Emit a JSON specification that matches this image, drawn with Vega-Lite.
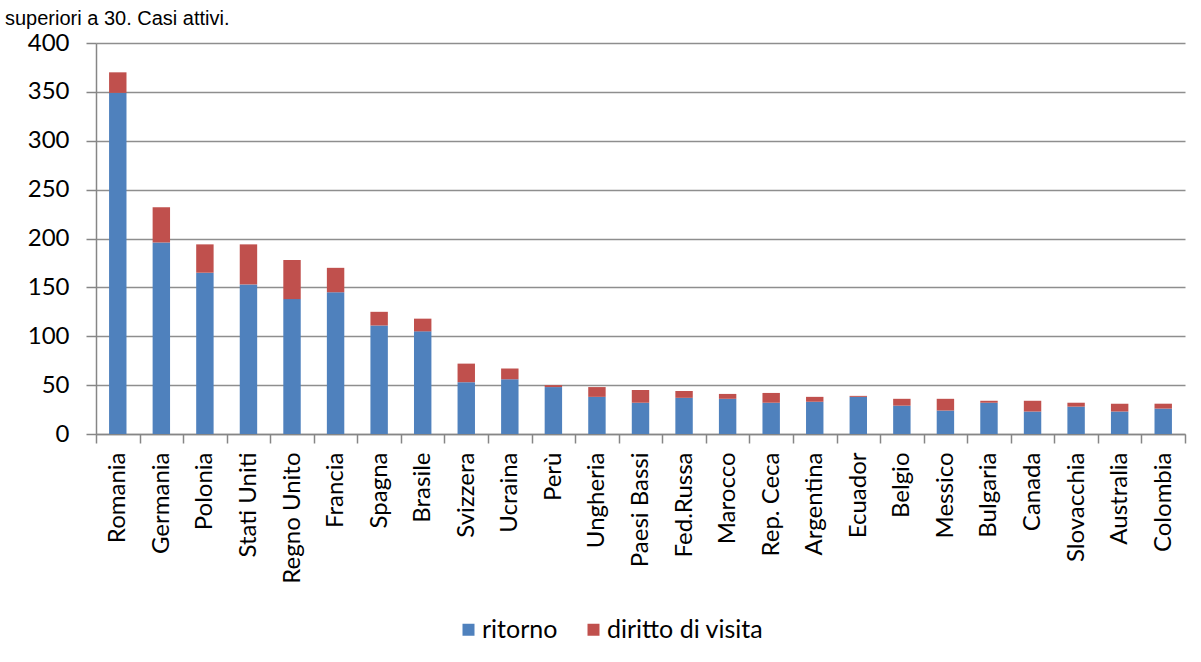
{
  "$schema": "https://vega.github.io/schema/vega-lite/v6.json",
  "width": 1089,
  "height": 391,
  "autosize": {"type": "none"},
  "padding": {"left": 96, "top": 43, "right": 16, "bottom": 228},
  "background": "white",
  "title": {"text": "superiori a 30. Casi attivi.", "anchor": "start", "frame": "group", "dx": -91, "offset": -14, "baseline": "alphabetic", "font": "Liberation Sans", "fontSize": 20, "fontWeight": "normal", "color": "black"},
  "data": {"values": [
    {"paese": "Romania", "ritorno": 349, "diritto di visita": 21},
    {"paese": "Germania", "ritorno": 196, "diritto di visita": 36},
    {"paese": "Polonia", "ritorno": 165, "diritto di visita": 29},
    {"paese": "Stati Uniti", "ritorno": 153, "diritto di visita": 41},
    {"paese": "Regno Unito", "ritorno": 138, "diritto di visita": 40},
    {"paese": "Francia", "ritorno": 145, "diritto di visita": 25},
    {"paese": "Spagna", "ritorno": 111, "diritto di visita": 14},
    {"paese": "Brasile", "ritorno": 105, "diritto di visita": 13},
    {"paese": "Svizzera", "ritorno": 53, "diritto di visita": 19},
    {"paese": "Ucraina", "ritorno": 56, "diritto di visita": 11},
    {"paese": "Perù", "ritorno": 48, "diritto di visita": 2},
    {"paese": "Ungheria", "ritorno": 38, "diritto di visita": 10},
    {"paese": "Paesi Bassi", "ritorno": 32, "diritto di visita": 13},
    {"paese": "Fed.Russa", "ritorno": 37, "diritto di visita": 7},
    {"paese": "Marocco", "ritorno": 36, "diritto di visita": 5},
    {"paese": "Rep. Ceca", "ritorno": 32, "diritto di visita": 10},
    {"paese": "Argentina", "ritorno": 33, "diritto di visita": 5},
    {"paese": "Ecuador", "ritorno": 38, "diritto di visita": 1},
    {"paese": "Belgio", "ritorno": 29, "diritto di visita": 7},
    {"paese": "Messico", "ritorno": 24, "diritto di visita": 12},
    {"paese": "Bulgaria", "ritorno": 32, "diritto di visita": 2},
    {"paese": "Canada", "ritorno": 23, "diritto di visita": 11},
    {"paese": "Slovacchia", "ritorno": 28, "diritto di visita": 4},
    {"paese": "Australia", "ritorno": 23, "diritto di visita": 8},
    {"paese": "Colombia", "ritorno": 26, "diritto di visita": 5}
  ]},
  "transform": [{"fold": ["ritorno", "diritto di visita"], "as": ["serie", "casi"]}],
  "mark": {"type": "bar", "width": {"band": 0.4}},
  "encoding": {
    "x": {
      "field": "paese", "type": "nominal", "sort": null,
      "scale": {"paddingInner": 0, "paddingOuter": 0},
      "axis": {"title": null, "labelAngle": -90, "tickBand": "extent", "tickSize": 9, "labelPadding": 9,
        "labelFont": "Lato", "labelFontSize": 24, "labelColor": "black",
        "domainColor": "#868686", "tickColor": "#868686", "domainWidth": 1.5, "tickWidth": 1.5, "grid": false}
    },
    "y": {
      "field": "casi", "type": "quantitative",
      "scale": {"domain": [0, 400], "nice": false},
      "axis": {"title": null, "values": [0, 50, 100, 150, 200, 250, 300, 350, 400], "tickSize": 10, "labelPadding": 17,
        "labelFont": "Lato", "labelFontSize": 24, "labelColor": "black",
        "domainColor": "#868686", "tickColor": "#868686", "domainWidth": 1.5, "tickWidth": 1.5,
        "gridColor": "#8e8e8e", "gridWidth": 1.5}
    },
    "color": {
      "field": "serie", "type": "nominal",
      "scale": {"domain": ["ritorno", "diritto di visita"], "range": ["#4F81BD", "#C0504D"]},
      "legend": {"title": null, "orient": "none", "legendX": 360, "legendY": 574, "direction": "horizontal",
        "symbolType": "square", "symbolSize": 144, "symbolStrokeWidth": 0, "labelFont": "Lato", "labelFontSize": 25,
        "labelColor": "black", "columnPadding": 23, "labelOffset": 1}
    },
    "order": {"field": "serie", "sort": "descending"}
  },
  "config": {"view": {"stroke": null}}
}
